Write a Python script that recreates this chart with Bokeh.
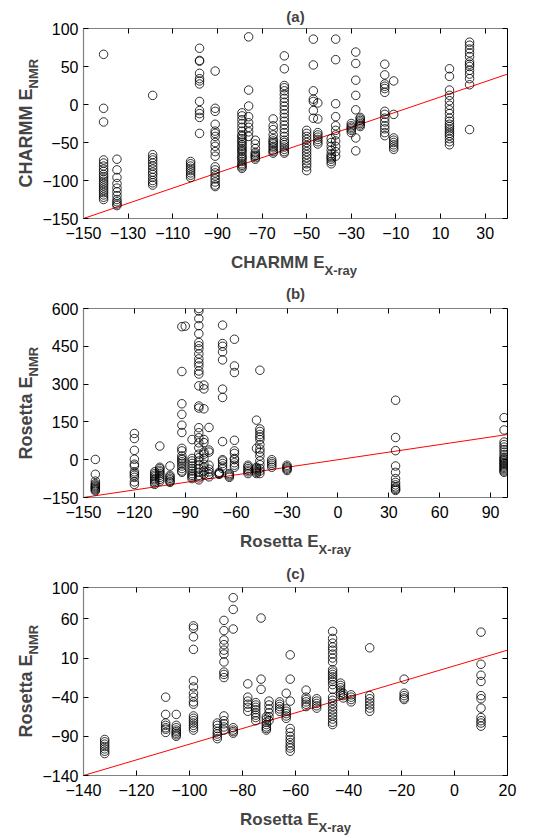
from math import pi
from bokeh.plotting import figure
from bokeh.models import Label, LinearAxis, FixedTicker, CustomJSTickFormatter
from bokeh.layouts import column
from bokeh.embed import file_html
from bokeh.resources import INLINE

FONT = "Liberation Sans"
GRAY = "#808080"

# ---------------- panel (a): CHARMM ----------------
a_title = "(a)"
a_xlabel = ("CHARMM E", "X-ray")
a_ylabel = ("CHARMM E", "NMR")
a_xlim = [-150, 40]
a_ylim = [-150, 100]
a_xticks = [-150, -130, -110, -90, -70, -50, -30, -10, 10, 30]
a_yticks = [-150, -100, -50, 0, 50, 100]
a_fit = [-150, 40]
a_col_x = [-141, -135, -119, -102, -98, -91, -79, -76, -73, -65, -60, -50, -47,
           -45, -39, -37, -30, -28, -26, -15, -11, 14, 23]
a_col_y = [
    [66, -5, -23, -73, -77, -81, -85, -88, -92, -95, -98, -101, -104, -107, -110, -113, -116, -119, -122, -125],
    [-72, -86, -96, -104, -110, -115, -120, -125, -128, -131, -133],
    [12, -66, -70, -73, -77, -81, -85, -89, -92, -96, -100, -103, -106],
    [-75, -78, -81, -84, -87, -90, -93, -96],
    [74, 58, 57, 41, 34, 31, 27, 4, -8, -12, -17, -38],
    [44, -5, -9, -26, -35, -38, -42, -50, -55, -62, -68, -82, -86, -90, -94, -98, -102, -106, -108],
    [-11, -15, -20, -25, -30, -35, -40, -42, -45, -48, -50, -53, -55, -58, -60, -62, -65, -68, -70, -72, -75, -78, -80, -82, -84],
    [89, 19, -2, -16, -24, -30, -36, -42],
    [-47, -52, -58, -63, -65, -67, -68, -70, -72],
    [-19, -28, -33, -40, -45, -48, -50, -52, -55, -57, -60, -62, -64],
    [64, 47, 25, 22, 18, 13, 8, 3, -2, -7, -12, -17, -22, -27, -32, -37, -42, -47, -50, -53, -56, -59, -62, -64],
    [-34, -38, -42, -46, -50, -54, -58, -62, -66, -70, -74, -78, -82, -87],
    [86, 52, 18, 7, 4, -8, -18],
    [2, -19, -37, -40, -43, -46, -49, -52],
    [-45, -50, -55, -60, -65, -68, -70, -72, -75, -78],
    [86, 59, 1, -16, -28, -34, -40, -48, -55, -62, -68],
    [-25, -28, -30, -32, -34, -37],
    [69, 54, 32, 12, -7, -44, -61],
    [-17, -19, -21, -23, -25, -27, -29],
    [53, 39, 27, 24, 21, 16, -9, -13, -18, -23, -28, -32, -37, -41],
    [31, -13, -44, -47, -50, -53, -56, -59],
    [47, 37, 19, 12, 5, -1, -7, -12, -18, -22, -26, -29, -32, -35, -38, -41, -45, -49, -53],
    [82, 78, 73, 68, 63, 56, 53, 50, 45, 40, 34, 26, -33],
]

# ---------------- panel (b): Rosetta ----------------
b_title = "(b)"
b_xlabel = ("Rosetta E", "X-ray")
b_ylabel = ("Rosetta E", "NMR")
b_xlim = [-150, 100]
b_ylim = [-150, 600]
b_xticks = [-150, -120, -90, -60, -30, 0, 30, 60, 90]
b_yticks = [-150, 0, 150, 300, 450, 600]
b_fit = [-150, 100]
b_col_x = [-143, -120, -108, -105, -99, -92, -90, -86, -82, -79, -76, -70, -68,
           -64, -61, -53, -48, -46, -39, -30, 34, 98]
b_col_y = [
    [1, -58, -85, -95, -100, -104, -108, -112, -116, -120, -124],
    [104, 84, 37, 2, -18, -25, -48, -55, -62, -70, -88, -98],
    [-48, -55, -62, -68, -75, -80, -86, -92, -98],
    [54, -30, -35, -42, -48, -55, -62, -70, -78, -85],
    [-25, -62, -68, -74, -80, -86, -90],
    [528, 350, 222, 180, 137, 108, 45, 35, 15, 5, 0, -8, -15, -25, -35, -45, -50],
    [530],
    [80, 5, -5, -15, -25, -35, -45, -55, -62, -68, -75],
    [600, 590, 560, 532, 500, 465, 452, 440, 420, 400, 385, 372, 352, 340, 293, 213, 205,
     127, 107, 87, 67, 47, 22, 8, -5, -20, -35, -50, -62, -72, -80],
    [296, 281, 202, 80, 68, 30, 22, 5, -18, -30, -45, -58],
    [128, 38, 30, -22, -38, -48, -58, -68],
    [-50, -53, -56, -58],
    [534, 461, 450, 428, 396, 280, 247, 72, 0, -5, -15, -25, -35],
    [-55, -60, -65, -70],
    [478, 372, 346, 77, 35, 25, 5, 0, -12, -22, -30],
    [-22, -28, -35, -42, -48, -55],
    [157, 45, -30, -35, -40, -45, -50, -55],
    [355, 122, 112, 100, 90, 80, 60, 42, 30, 15, -5, -20, -35, -45, -55],
    [0, -8, -15, -22, -30],
    [-22, -28, -33, -38, -43],
    [236, 88, 36, -25, -50, -75, -90, -100, -108, -113, -118, -122],
    [167, 118, 70, 60, 50, 40, 30, 20, 10, 5, 0, -5, -10, -15, -20, -25, -30, -35, -40, -45, -50],
]

# ---------------- panel (c): Rosetta ----------------
c_title = "(c)"
c_xlabel = ("Rosetta E", "X-ray")
c_ylabel = ("Rosetta E", "NMR")
c_xlim = [-140, 20]
c_ylim = [-140, 100]
c_xticks = [-140, -120, -100, -80, -60, -40, -20, 0, 20]
c_yticks = [-140, -90, -40, 10, 60, 100]
c_fit = [-140, 20]
c_col_x = [-132, -109, -105, -98.5, -89.5, -87, -83.5, -78, -75, -73, -71, -70, -66,
           -63.5, -62, -56, -52, -46, -43, -42, -39, -32, -19, 10]
c_col_y = [
    [-94, -97, -100, -103, -106, -109, -112],
    [-40, -62, -73, -76, -79, -81, -85],
    [-62, -76, -79, -82, -84, -86, -88, -90],
    [51, 48, 37, 21, -19, -27, -35, -40, -46, -49, -64, -67, -70, -73, -76, -79, -82],
    [-73, -76, -80, -84, -87, -90, -93],
    [58, 45, 33, 27, 20, 15, 5, -8, -11, -15, -64, -70, -74, -78, -82],
    [87, 72, 47, -79, -82, -84, -86],
    [-23, -40, -45, -49, -53, -58],
    [-47, -50, -53, -56, -60, -63, -66, -70],
    [61, -17, -30],
    [-65, -68, -72, -75, -78, -80, -82],
    [-45, -50, -55, -60, -65, -70],
    [-46, -49, -52, -55, -58],
    [-35, -55, -58, -61, -64, -67],
    [14, -17, -45, -80, -85, -90, -94, -98, -102, -105, -109],
    [-31, -40, -43, -46, -49, -52],
    [-42, -45, -48, -51, -54],
    [44, 35, 29, 24, 20, 15, 10, 5, -5, -8, -11, -14, -17, -20, -24, -30, -40, -44,
     -48, -52, -56, -60, -64, -68, -72, -75],
    [-22, -25, -28, -31, -34, -37],
    [-35, -38, -41],
    [-37, -40, -43, -46],
    [23, -38, -42, -46, -50, -54, -58],
    [-17, -35, -38, -41, -43],
    [43, 2, -12, -20, -38, -42, -54, -66, -70, -73, -77],
]


def hidden_axis(ticks, color, width):
    return LinearAxis(ticker=FixedTicker(ticks=ticks),
                      formatter=CustomJSTickFormatter(code="return ''"),
                      major_label_text_font_size="1px", major_label_standoff=0,
                      major_tick_in=5, major_tick_out=0, minor_tick_line_color=None,
                      axis_line_color=color, axis_line_width=width,
                      major_tick_line_color="black")


def make_panel(title, xlabel, ylabel, xlim, ylim, xticks, yticks, fit, col_x, col_y,
               frame_h, top_b, bottom_b, title_dy, xjunc, yjunc):
    p = figure(frame_width=424, frame_height=frame_h, x_range=tuple(xlim), y_range=tuple(ylim),
               output_backend="svg", toolbar_location=None,
               min_border_left=83, min_border_right=30,
               min_border_top=top_b, min_border_bottom=bottom_b)
    p.outline_line_color = None
    p.grid.visible = False
    p.background_fill_color = "white"
    p.border_fill_color = "white"

    for ax, ticks in ((p.xaxis[0], xticks), (p.yaxis[0], yticks)):
        ax.ticker = FixedTicker(ticks=ticks)
        ax.major_tick_in = 5
        ax.major_tick_out = 0
        ax.minor_tick_line_color = None
        ax.axis_line_color = GRAY
        ax.axis_line_width = 1.2
        ax.major_tick_line_color = "black"
        ax.major_label_text_font = FONT
        ax.major_label_text_font_size = "16px"
        ax.major_label_text_color = "black"
    p.xaxis[0].major_label_standoff = 8
    p.yaxis[0].major_label_standoff = 5

    p.add_layout(hidden_axis(xticks, GRAY, 1.2), "above")
    p.add_layout(hidden_axis(yticks, "black", 1), "right")

    xs = [cx for cx, ys in zip(col_x, col_y) for _ in ys]
    ys = [v for ys_ in col_y for v in ys_]
    p.line(fit, fit, line_color="#ff0000", line_width=1)
    p.scatter(xs, ys, marker="circle", size=8.5, fill_color=None,
              line_color="black", line_width=0.8)

    x0, y0, y1 = xlim[0], ylim[0], ylim[1]
    common = dict(text_font=FONT, text_font_style="bold", text_baseline="alphabetic")
    # labels live in the border panels so that they are not clipped to the frame
    p.add_layout(Label(x=x0, y=y1, x_offset=212, y_offset=title_dy, text=title,
                       text_align="center", text_font_size="15px", **common), "above")
    p.add_layout(Label(x=x0, y=y0, x_offset=xjunc, y_offset=-44, text=xlabel[0],
                       text_align="right", text_font_size="17px", **common), "below")
    p.add_layout(Label(x=x0, y=y0, x_offset=xjunc, y_offset=-52, text=xlabel[1],
                       text_align="left", text_font_size="13px", **common), "below")
    p.add_layout(Label(x=x0, y=y0, x_offset=-58, y_offset=yjunc, text=ylabel[0], angle=pi / 2,
                       text_align="right", text_font_size="18px", **common), "left")
    p.add_layout(Label(x=x0, y=y0, x_offset=-50, y_offset=yjunc, text=ylabel[1], angle=pi / 2,
                       text_align="left", text_font_size="13px", **common), "right")
    return p


pa = make_panel(a_title, a_xlabel, a_ylabel, a_xlim, a_ylim, a_xticks, a_yticks, a_fit,
                a_col_x, a_col_y, 190, 28, 62, 12, 241, 130)
pb = make_panel(b_title, b_xlabel, b_ylabel, b_xlim, b_ylim, b_xticks, b_yticks, b_fit,
                b_col_x, b_col_y, 189, 28, 62, 15, 235, 121)
pc = make_panel(c_title, c_xlabel, c_ylabel, c_xlim, c_ylim, c_xticks, c_yticks, c_fit,
                c_col_x, c_col_y, 188, 28, 62, 14, 235, 121)

layout = column(pa, pb, pc, spacing=0)
open("out.html", "w").write(file_html(layout, INLINE))
